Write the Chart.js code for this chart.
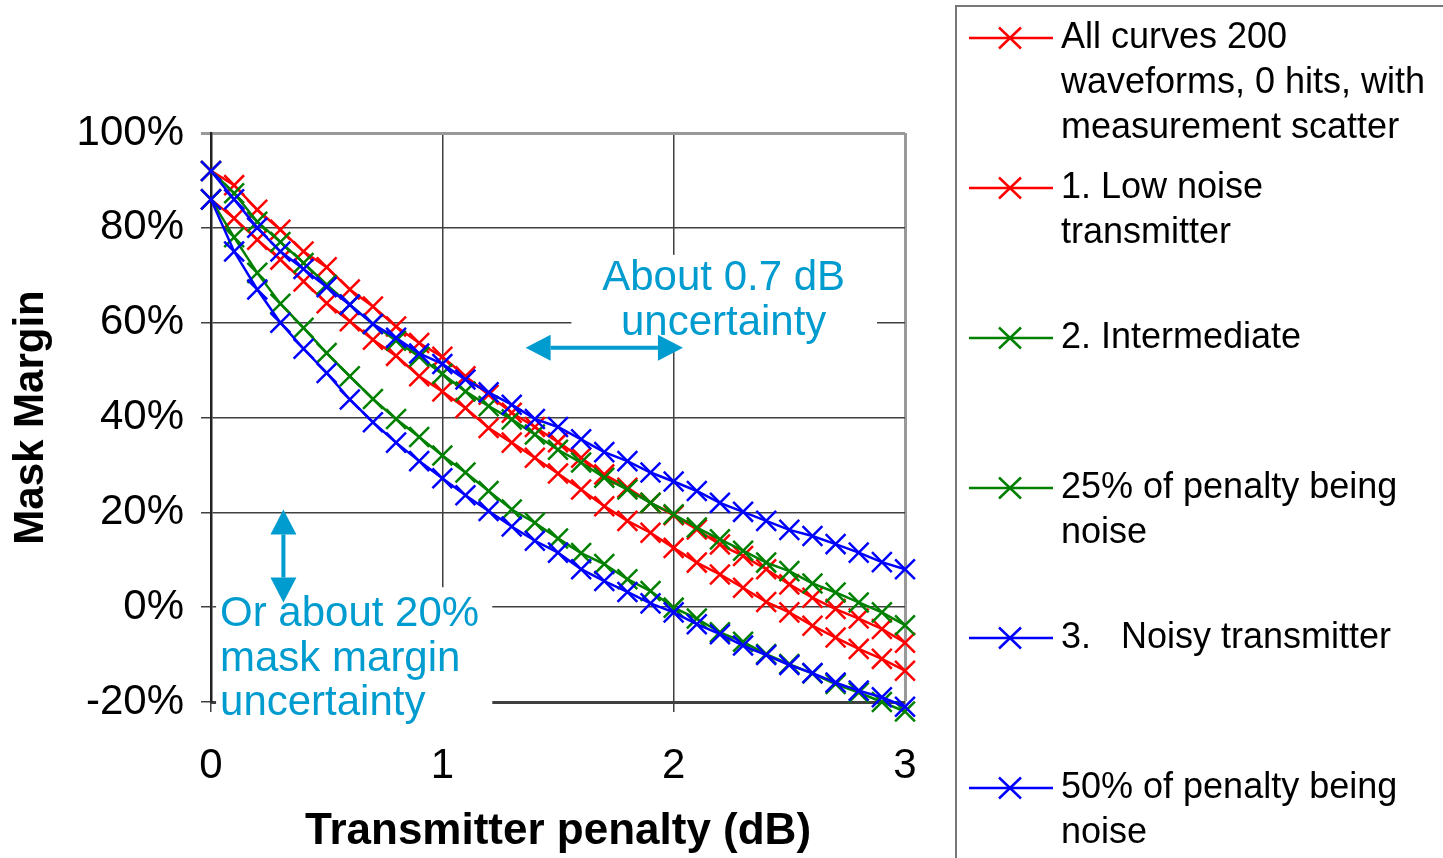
<!DOCTYPE html>
<html>
<head>
<meta charset="utf-8">
<title>Mask margin vs transmitter penalty</title>
<script src="https://cdn.jsdelivr.net/npm/chart.js@4.4.1/dist/chart.umd.min.js"></script>
<style>
  html, body { margin: 0; padding: 0; background: #fff; }
  #wrap { width: 1443px; height: 858px; }
</style>
</head>
<body>
<div id="wrap"><canvas id="chartMargen" width="1443" height="858"></canvas></div>
<script>
// penalidad del transmisor (dB)
const penalizacion = [0, 0.1, 0.2, 0.3, 0.4, 0.5, 0.6, 0.7, 0.8, 0.9, 1.0,
    1.1, 1.2, 1.3, 1.4, 1.5, 1.6, 1.7, 1.8, 1.9, 2.0,
    2.1, 2.2, 2.3, 2.4, 2.5, 2.6, 2.7, 2.8, 2.9, 3.0];

// mask margin (%)
const rojoTodas = [92, 89, 83.8, 79.6, 75, 71.7, 67, 63.4, 59.2, 55.7, 52.8,
    48.7, 44.8, 41, 38, 34.8, 31.5, 28, 25.2, 22, 19.4,
    16.4, 13.2, 10.8, 8, 4.8, 2, -0.4, -2.4, -4.6, -7.5];
const rojoBajoRuido = [86, 82, 77.5, 73.3, 68.7, 64.1, 60.3, 56.4, 53, 48.7, 45.5,
    42, 37.8, 34.7, 31.5, 28.2, 24.8, 21.3, 18.2, 15.7, 12.5,
    9.4, 6.9, 4.1, 1.1, -1.1, -3.9, -6.4, -8.8, -10.9, -13.4];
const verdeIntermedio = [92, 87.3, 81.3, 77, 72.6, 68, 63.8, 59.7, 56.2, 52.8, 49.2,
    45.5, 42.4, 39.6, 36.4, 33.2, 30.5, 27.3, 24.8, 22, 19.6,
    16.8, 14.3, 11.9, 9.4, 7.6, 5, 3.1, 1, -1.1, -3.8];
const verde25 = [86, 78, 70.5, 64, 58.9, 53.6, 48.7, 43.9, 39.7, 35.9, 32,
    28.4, 24.5, 20.6, 17.8, 14.5, 11.4, 9.1, 5.9, 3.4, -0.1,
    -2.4, -5.3, -7.3, -9.9, -12, -14, -16.2, -18, -20, -22];
const azulRuidoso = [92, 86, 80, 75, 71.3, 67.5, 63.8, 59.7, 56.8, 53.5, 51.3,
    48, 45.3, 42.7, 39.7, 38, 35.4, 32.7, 30.8, 28.4, 26.5,
    24.5, 22, 20.1, 18.2, 16.3, 15, 13.3, 11.5, 9.5, 8];
const azul50 = [86, 75, 67, 60, 54.5, 49.4, 43.8, 39, 34.7, 30.8, 27.2,
    23.6, 20.3, 17, 14, 11.5, 8, 5.5, 3.2, 0.8, -1.1,
    -3.6, -5.7, -8.1, -10.1, -12.2, -13.9, -15.9, -17.6, -19, -21];

const etiquetasLeyenda = [
    ["All curves 200", "waveforms, 0 hits, with", "measurement scatter"],
    ["1. Low noise", "transmitter"],
    ["2. Intermediate"],
    ["25% of penalty being", "noise"],
    ["3.   Noisy transmitter"],
    ["50% of penalty being", "noise"]
];

const FUENTE = '"Liberation Sans", Arial, sans-serif';
const CELESTE = "#009CCF";

function serie(valores, i, color, orden) {
    return {
        label: etiquetasLeyenda[i].join(" "),
        lineas: etiquetasLeyenda[i],
        data: penalizacion.map((p, k) => ({ x: p, y: valores[k] })),
        borderColor: color,
        backgroundColor: color,
        borderWidth: 2.5,
        pointStyle: "crossRot",
        pointRadius: 14,
        pointBorderWidth: 2.5,
        pointHoverRadius: 14,
        tension: 0,
        order: orden,
        clip: 20
    };
}

// flechas y textos en coordenadas del grafico
const anotaciones = {
    id: "anotaciones",
    beforeDatasetsDraw(chart) {
        const { ctx, scales: { x, y } } = chart;
        ctx.save();

        ctx.fillStyle = "#fff";
        [[1.558, 2.879, 74.3, 53.9], [0.022, 1.216, 4.2, -27]].forEach(c => {
            const x0 = x.getPixelForValue(c[0]), x1 = x.getPixelForValue(c[1]);
            const y0 = y.getPixelForValue(c[2]), y1 = y.getPixelForValue(c[3]);
            ctx.fillRect(x0, y0, x1 - x0, y1 - y0);
        });

        ctx.strokeStyle = CELESTE;
        ctx.fillStyle = CELESTE;
        ctx.lineWidth = 4;
        const punta = 25, ancho = 13;

        // flecha horizontal (0.7 dB)
        const ha = x.getPixelForValue(1.36), hb = x.getPixelForValue(2.04), hy = y.getPixelForValue(54.7);
        ctx.beginPath(); ctx.moveTo(ha + punta, hy); ctx.lineTo(hb - punta, hy); ctx.stroke();
        ctx.beginPath(); ctx.moveTo(ha, hy); ctx.lineTo(ha + punta, hy - ancho); ctx.lineTo(ha + punta, hy + ancho); ctx.fill();
        ctx.beginPath(); ctx.moveTo(hb, hy); ctx.lineTo(hb - punta, hy - ancho); ctx.lineTo(hb - punta, hy + ancho); ctx.fill();

        // flecha vertical (20%)
        const vx = x.getPixelForValue(0.313), va = y.getPixelForValue(20.6), vb = y.getPixelForValue(1.0);
        ctx.beginPath(); ctx.moveTo(vx, va + punta); ctx.lineTo(vx, vb - punta); ctx.stroke();
        ctx.beginPath(); ctx.moveTo(vx, va); ctx.lineTo(vx - ancho, va + punta); ctx.lineTo(vx + ancho, va + punta); ctx.fill();
        ctx.beginPath(); ctx.moveTo(vx, vb); ctx.lineTo(vx - ancho, vb - punta); ctx.lineTo(vx + ancho, vb - punta); ctx.fill();

        ctx.font = "42px " + FUENTE;
        ctx.textBaseline = "alphabetic";
        ctx.textAlign = "center";
        const tx = x.getPixelForValue(2.216);
        ctx.fillText("About 0.7 dB", tx, y.getPixelForValue(66.9));
        ctx.fillText("uncertainty", tx, y.getPixelForValue(57.5));

        ctx.textAlign = "left";
        const lx = x.getPixelForValue(0.039);
        ctx.fillText("Or about 20%", lx, y.getPixelForValue(-4));
        ctx.fillText("mask margin", lx, y.getPixelForValue(-13.5));
        ctx.fillText("uncertainty", lx, y.getPixelForValue(-22.7));
        ctx.restore();
    }
};

// leyenda dibujada a mano a la derecha
const leyenda = {
    id: "leyenda",
    afterDraw(chart) {
        const ctx = chart.ctx;
        const filas = [38, 188, 338, 488, 638, 788];
        ctx.save();
        ctx.strokeStyle = "#777";
        ctx.lineWidth = 2;
        ctx.beginPath();
        ctx.moveTo(956, 858); ctx.lineTo(956, 6); ctx.lineTo(1443, 6);
        ctx.stroke();

        ctx.font = "36px " + FUENTE;
        ctx.textAlign = "left";
        ctx.textBaseline = "alphabetic";
        chart.data.datasets.forEach((ds, i) => {
            const yc = filas[i];
            ctx.strokeStyle = ds.borderColor;
            ctx.lineWidth = 2.5;
            ctx.beginPath(); ctx.moveTo(969, yc); ctx.lineTo(1053, yc); ctx.stroke();
            ctx.beginPath();
            ctx.moveTo(999, yc - 10.5); ctx.lineTo(1021, yc + 10.5);
            ctx.moveTo(999, yc + 10.5); ctx.lineTo(1021, yc - 10.5);
            ctx.stroke();
            ctx.fillStyle = "#000";
            ds.lineas.forEach((t, k) => ctx.fillText(t, 1061, yc + 10 + 45 * k));
        });
        ctx.restore();
    }
};

const ctx = document.getElementById("chartMargen").getContext("2d");
new Chart(ctx, {
    type: "line",
    data: {
        datasets: [
            serie(rojoTodas, 0, "#FF0000", 3),
            serie(rojoBajoRuido, 1, "#FF0000", 3),
            serie(verdeIntermedio, 2, "#008000", 2),
            serie(verde25, 3, "#008000", 2),
            serie(azulRuidoso, 4, "#0000FF", 1),
            serie(azul50, 5, "#0000FF", 1)
        ]
    },
    options: {
        responsive: false,
        devicePixelRatio: 1,
        animation: false,
        layout: { padding: { left: 0, top: 133, right: 538, bottom: 0 } },
        plugins: {
            legend: { display: false },
            tooltip: { enabled: false }
        },
        scales: {
            x: {
                type: "linear",
                min: 0,
                max: 3,
                ticks: { stepSize: 1, color: "#000", padding: 29, font: { family: FUENTE, size: 42 } },
                grid: {
                    color: c => c.tick && c.tick.value === 3 ? "#999" : "#404040",
                    lineWidth: c => c.tick && c.tick.value === 3 ? 3 : 1.5,
                    tickLength: 10
                },
                border: { color: "#404040", width: 3 },
                title: {
                    display: true,
                    text: "Transmitter penalty (dB)",
                    color: "#000",
                    padding: { top: 0, bottom: 0 },
                    font: { family: FUENTE, size: 44, weight: "bold" }
                },
                afterFit: s => { s.height = 156; }
            },
            y: {
                min: -20,
                max: 100,
                ticks: {
                    stepSize: 20,
                    color: "#000",
                    padding: 17,
                    font: { family: FUENTE, size: 42 },
                    callback: v => v + "%"
                },
                grid: {
                    color: c => c.tick && c.tick.value === 100 ? "#999" : "#404040",
                    lineWidth: c => c.tick && c.tick.value === 100 ? 3 : 1.5,
                    tickLength: 10
                },
                border: { color: "#222", width: 2.5 },
                title: {
                    display: true,
                    text: "Mask Margin",
                    color: "#000",
                    padding: { top: 6, bottom: 0 },
                    font: { family: FUENTE, size: 42, weight: "bold" }
                },
                afterFit: s => { s.width = 211; }
            }
        }
    },
    plugins: [anotaciones, leyenda]
});
</script>
</body>
</html>
